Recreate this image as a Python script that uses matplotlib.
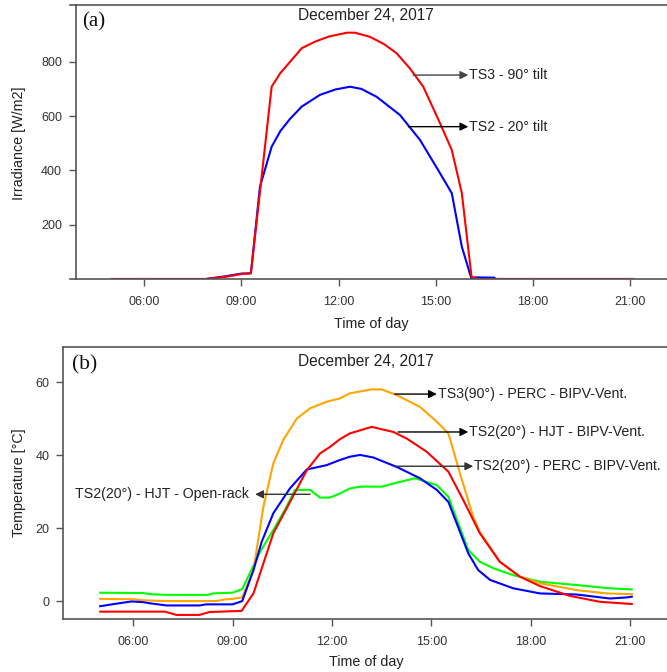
import matplotlib
matplotlib.use("Agg")
import matplotlib.pyplot as plt

plt.rcParams['font.family'] = ['Liberation Sans', 'DejaVu Sans']

# ---- panel (a): irradiance, hours of day ----
t_ts3 = [5.0, 7.9, 8.5, 9.0, 9.29, 9.93, 10.19, 10.5, 10.86, 11.27, 11.7, 12.25, 12.5,
         12.96, 13.4, 13.79, 14.2, 14.61, 15.13, 15.49, 15.80, 16.1, 16.3, 21.07]
irr_ts3 = [0, 0, 8, 18, 21, 708, 757, 800, 850, 874, 893, 907, 907,
           892, 865, 831, 775, 708, 573, 475, 316, 8, 0, 0]

t_ts2 = [5.0, 7.9, 8.5, 9.0, 9.29, 9.57, 9.93, 10.2, 10.5, 10.86, 11.42, 11.9, 12.35,
         12.7, 13.17, 13.89, 14.51, 15.07, 15.49, 15.80, 16.1, 16.2, 16.8, 16.85, 21.07]
irr_ts2 = [0, 0, 10, 20, 21, 340, 487, 545, 590, 635, 678, 698, 708,
           700, 671, 604, 512, 401, 316, 119, 0, 6, 5, 0, 0]

# ---- panel (b): module temperatures ----
t_or = [5.0, 6.0, 6.3, 7.0, 8.5, 8.8, 9.0, 9.29, 9.63, 9.93, 10.23, 10.53, 10.94, 11.34,
        11.84, 12.24, 12.54, 13.20, 13.50, 13.96, 14.66, 15.17, 15.52, 15.87, 16.27,
        16.47, 17.07, 17.68, 18.29, 19.40, 20.30, 21.06]
temp_or = [0.6, 0.5, 0.2, 0.0, 0.0, 0.5, 0.6, 1.0, 8.5, 25.9, 37.8, 44.2, 50.1, 52.9,
           54.7, 55.6, 57.0, 58.1, 58.1, 56.5, 53.3, 49.2, 46.0, 35.0, 23.1,
           18.9, 10.8, 6.7, 4.9, 3.0, 2.1, 1.9]

t_red = [5.0, 6.96, 7.3, 8.0, 8.3, 9.27, 9.63, 10.23, 10.63, 11.24, 11.64, 11.94, 12.24,
         12.54, 13.20, 13.86, 14.26, 14.86, 15.52, 15.97, 16.47, 17.07, 17.68, 18.29,
         19.2, 20.1, 21.06]
temp_red = [-2.9, -2.9, -3.8, -3.8, -3.0, -2.7, 2.1, 18.6, 25.4, 35.9, 40.5, 42.3, 44.4,
            46.0, 47.8, 46.4, 44.6, 41.0, 35.5, 27.7, 18.6, 10.8, 6.7, 4.1,
            1.4, -0.2, -0.8]

t_blue = [5.0, 5.5, 5.95, 6.3, 6.5, 7.0, 8.0, 8.2, 9.0, 9.29, 9.63, 9.88, 10.23, 10.73,
          11.24, 11.84, 12.24, 12.54, 12.85, 13.25, 13.96, 14.66, 15.17, 15.52, 16.12,
          16.42, 16.78, 17.48, 18.29, 19.40, 20.40, 20.9, 21.06]
temp_blue = [-1.4, -0.7, -0.1, -0.3, -0.6, -1.2, -1.2, -0.9, -0.9, 0.0, 8.5, 16.3, 24.1, 30.9,
             36.1, 37.3, 38.7, 39.6, 40.1, 39.4, 36.8, 33.7, 30.5, 27.2, 13.1,
             8.5, 5.8, 3.5, 2.1, 1.8, 0.7, 1.0, 1.2]

t_green = [5.0, 6.3, 6.5, 7.0, 8.26, 8.4, 9.0, 9.29, 9.83, 10.23, 10.63, 10.88, 11.34,
           11.64, 11.94, 12.24, 12.54, 12.85, 13.50, 14.06, 14.51, 14.86, 15.17, 15.52,
           16.12, 16.47, 16.88, 17.48, 18.29, 19.40, 20.40, 21.06]
temp_green = [2.3, 2.2, 1.9, 1.7, 1.7, 2.1, 2.3, 3.3, 13.5, 19.5, 25.9, 30.5, 30.5,
              28.4, 28.4, 29.5, 30.9, 31.4, 31.4, 32.7, 33.7, 32.7, 31.8, 28.6,
              14.0, 10.8, 9.0, 7.1, 5.3, 4.4, 3.5, 3.2]

hour_ticks = [6, 9, 12, 15, 18, 21]
hour_labels = ['06:00', '09:00', '12:00', '15:00', '18:00', '21:00']

W, H = 667, 672
fig = plt.figure(figsize=(W / 100, H / 100), dpi=100)

spine_c = '#555555'
tick_c = '#333333'
txt_c = '#222222'
ann_fs = 10.2


def px(x0, y0, x1, y1):
    # pixel box -> figure fraction rect
    return [x0 / W, 1 - y1 / H, (x1 - x0) / W, (y1 - y0) / H]


def style(ax):
    for s in ['top', 'left', 'bottom']:
        ax.spines[s].set_color(spine_c)
        ax.spines[s].set_linewidth(1.2)
    ax.spines['right'].set_visible(False)
    ax.tick_params(direction='out', length=5, width=1, color=spine_c,
                   labelsize=9, labelcolor=tick_c)
    ax.tick_params(axis='x', pad=7)
    ax.tick_params(axis='y', pad=5)
    ax.set_xticks(hour_ticks)
    ax.set_xticklabels(hour_labels)


def arrow(ax, x0, x1, y, c='k'):
    ax.annotate('', xy=(x1, y), xytext=(x0, y),
                arrowprops=dict(arrowstyle='-|>', color=c, lw=1.0,
                                mutation_scale=12, shrinkA=0, shrinkB=0))


# panel a: 32.4 px per hour, 06:00 at x=144.3
x0a = 3.892
ax1 = fig.add_axes(px(76, 5, 76 + (22.5 - x0a) * 32.4, 279))
ax1.plot(t_ts2, irr_ts2, color='#0000ff', lw=1.5)
ax1.plot(t_ts3, irr_ts3, color='#ff0000', lw=1.5)
ax1.set_xlim(x0a, 22.5)
ax1.set_ylim(0, 1009)
ax1.set_yticks([200, 400, 600, 800])
style(ax1)
for yy in (0, 1):
    ax1.plot([-0.01, 0], [yy, yy], transform=ax1.transAxes, color=spine_c,
             lw=1.2, clip_on=False)
arrow(ax1, 14.30, 16.0, 751, c='#444444')
arrow(ax1, 14.15, 16.0, 561)
ax1.text(16.03, 751, 'TS3 - 90° tilt', va='center', ha='left', fontsize=ann_fs, color=txt_c)
ax1.text(16.03, 561, 'TS2 - 20° tilt', va='center', ha='left', fontsize=ann_fs, color=txt_c)

# panel b: 33.1 px per hour, 06:00 at x=133.3
x0b = 3.885
ax2 = fig.add_axes(px(63.3, 346.7, 63.3 + (22.5 - x0b) * 33.1, 619.3))
ax2.plot(t_green, temp_green, color='#00ff00', lw=1.5)
ax2.plot(t_or, temp_or, color='#ffa500', lw=1.5)
ax2.plot(t_blue, temp_blue, color='#0000ff', lw=1.5)
ax2.plot(t_red, temp_red, color='#ff0000', lw=1.5)
ax2.set_xlim(x0b, 22.5)
ax2.set_ylim(-5, 69.8)
ax2.set_yticks([0, 20, 40, 60])
style(ax2)
arrow(ax2, 13.9, 15.17, 56.8)
arrow(ax2, 14.0, 16.12, 46.4)
arrow(ax2, 13.96, 16.27, 37.0, c='#333333')
arrow(ax2, 11.34, 9.68, 29.3, c='#333333')
ax2.text(15.2, 56.8, 'TS3(90°) - PERC - BIPV-Vent.', va='center', fontsize=ann_fs, color=txt_c)
ax2.text(16.15, 46.4, 'TS2(20°) - HJT - BIPV-Vent.', va='center', fontsize=ann_fs, color=txt_c)
ax2.text(16.28, 37.0, 'TS2(20°) - PERC - BIPV-Vent.', va='center', fontsize=ann_fs - 0.2,
         color=txt_c)
ax2.text(9.5, 29.3, 'TS2(20°) - HJT - Open-rack', va='center', ha='right',
         fontsize=ann_fs, color=txt_c)

# titles, panel letters and axis labels
fig.text(366 / W, 1 - 16 / H, 'December 24, 2017', ha='center', va='center',
         fontsize=11.2, color=txt_c)
fig.text(366 / W, 1 - 361 / H, 'December 24, 2017', ha='center', va='center',
         fontsize=11.2, color=txt_c)
fig.text(82 / W, 1 - 22 / H, '(a)', ha='left', va='center', fontsize=15,
         family=['Liberation Serif'], color='#111111')
fig.text(72 / W, 1 - 365 / H, '(b)', ha='left', va='center', fontsize=15.5,
         family=['Liberation Serif'], color='#111111')
fig.text(371 / W, 1 - 324 / H, 'Time of day', ha='center', va='center',
         fontsize=10.3, color=txt_c)
fig.text(366 / W, 1 - 662 / H, 'Time of day', ha='center', va='center',
         fontsize=10.3, color=txt_c)
fig.text(19 / W, 1 - 143 / H, 'Irradiance [W/m2]', rotation=90, ha='center',
         va='center', fontsize=10.3, color=txt_c)
fig.text(19 / W, 1 - 483 / H, 'Temperature [°C]', rotation=90, ha='center',
         va='center', fontsize=10.3, color=txt_c)

fig.savefig('out.png', dpi=100)
